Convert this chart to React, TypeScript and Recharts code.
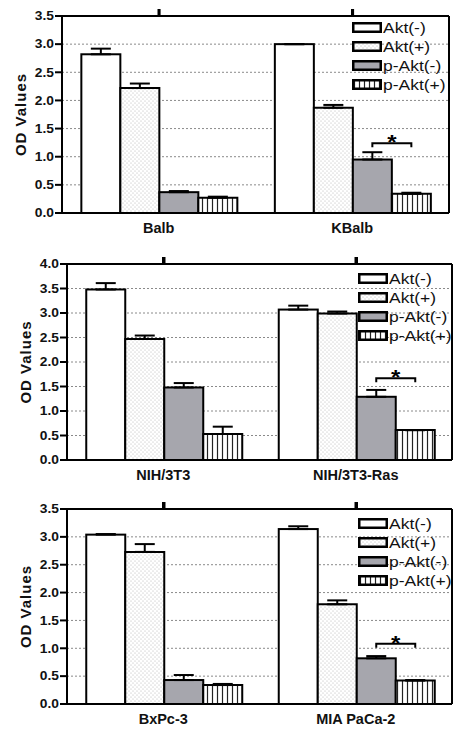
import React from 'react';
import { BarChart, Bar, XAxis, YAxis, CartesianGrid, ErrorBar } from 'recharts';

const seriesNames = ['Akt(-)', 'Akt(+)', 'p-Akt(-)', 'p-Akt(+)'];

// Panel 1
const cats1 = ['Balb', 'KBalb'];
const aktNeg1 = [2.82, 3.0];
const aktPos1 = [2.22, 1.87];
const pAktNeg1 = [0.37, 0.95];
const pAktPos1 = [0.27, 0.34];
const errAktNeg1 = [0.1, 0.0];
const errAktPos1 = [0.08, 0.05];
const errPAktNeg1 = [0.02, 0.13];
const errPAktPos1 = [0.02, 0.02];
const sig1: (number | null)[] = [null, 1.24];
const yTicks1 = [0, 0.5, 1, 1.5, 2, 2.5, 3, 3.5];

// Panel 2
const cats2 = ['NIH/3T3', 'NIH/3T3-Ras'];
const aktNeg2 = [3.48, 3.07];
const aktPos2 = [2.47, 2.99];
const pAktNeg2 = [1.48, 1.29];
const pAktPos2 = [0.53, 0.61];
const errAktNeg2 = [0.13, 0.08];
const errAktPos2 = [0.07, 0.04];
const errPAktNeg2 = [0.09, 0.14];
const errPAktPos2 = [0.15, 0.0];
const sig2: (number | null)[] = [null, 1.67];
const yTicks2 = [0, 0.5, 1, 1.5, 2, 2.5, 3, 3.5, 4];

// Panel 3
const cats3 = ['BxPc-3', 'MIA PaCa-2'];
const aktNeg3 = [3.04, 3.14];
const aktPos3 = [2.73, 1.79];
const pAktNeg3 = [0.43, 0.82];
const pAktPos3 = [0.34, 0.42];
const errAktNeg3 = [0.01, 0.05];
const errAktPos3 = [0.14, 0.07];
const errPAktNeg3 = [0.09, 0.04];
const errPAktPos3 = [0.02, 0.01];
const sig3: (number | null)[] = [null, 1.08];
const yTicks3 = [0, 0.5, 1, 1.5, 2, 2.5, 3, 3.5];

const FONT = '"Liberation Sans", Arial, Helvetica, sans-serif';
const GRAY = '#a6a6ad';

function buildRows(cats: string[], vals: number[][], errs: number[][], sig: (number | null)[]) {
  return cats.map((c, i) => ({
    cat: c,
    v0: vals[0][i], v1: vals[1][i], v2: vals[2][i], v3: vals[3][i],
    e0: [0, errs[0][i]], e1: [0, errs[1][i]], e2: [0, errs[2][i]], e3: [0, errs[3][i]],
    sig: sig[i],
  }));
}

function Patterns({ pid }: { pid: string }) {
  return (
    <defs>
      <pattern id={`dots-${pid}`} width={4} height={4} patternUnits="userSpaceOnUse">
        <rect width={4} height={4} fill="#fff" />
        <circle cx={1} cy={1} r={0.55} fill="#b0b0b0" />
        <circle cx={3} cy={3} r={0.55} fill="#b0b0b0" />
      </pattern>
      <pattern id={`stripes-${pid}`} width={5} height={5} patternUnits="userSpaceOnUse">
        <rect width={5} height={5} fill="#fff" />
        <line x1={2.5} y1={0} x2={2.5} y2={5} stroke="#222" strokeWidth={1.2} />
      </pattern>
    </defs>
  );
}

const fillsFor = (pid: string) => ['#ffffff', `url(#dots-${pid})`, GRAY, `url(#stripes-${pid})`];

function YTick(props: any) {
  const { x, y, payload } = props;
  return (
    <text x={0} y={0} transform={`translate(${x},${y}) scale(1.15,1)`} textAnchor="end" dy={4.3}
      fontSize={12} fontWeight="bold" fontFamily={FONT} fill="#111">
      {Number(payload.value).toFixed(1)}
    </text>
  );
}

function XTick(props: any) {
  const { x, y, payload } = props;
  return (
    <text x={x} y={y} textAnchor="middle" dy={11.5} fontSize={14.5} fontWeight="bold" fontFamily={FONT} fill="#111">
      {payload.value}
    </text>
  );
}

// first bar of each group: also draws the top-frame tick at the group centre
const makeFirstShape = (yMax: number) => (props: any) => {
  const { x, y, width, height, payload } = props;
  const rect = <rect x={x} y={y} width={width} height={height} fill="#fff" stroke="#000" strokeWidth={2} />;
  if (!payload || !payload.v0 || !height) return rect;
  const pxPerUnit = height / payload.v0;
  const top = y + height - yMax * pxPerUnit;
  const cx = x + width * 2;
  return (
    <g>
      {rect}
      <line x1={cx} x2={cx} y1={top + 1} y2={top - 7} stroke="#000" strokeWidth={2.5} />
    </g>
  );
};

function SigShape(props: any) {
  const { x, y, width, height, payload } = props;
  const rect = <rect x={x} y={y} width={width} height={height} fill={GRAY} stroke="#000" strokeWidth={2} />;
  const sig = payload ? payload.sig : null;
  if (sig == null || !payload.v2 || !height) return rect;
  const pxPerUnit = height / payload.v2;
  const base = y + height;
  const by = base - sig * pxPerUnit;
  const x1 = x + width / 2;
  const x2 = x + width * 1.5;
  const mid = (x1 + x2) / 2;
  return (
    <g>
      {rect}
      <path d={`M${x1},${by + 4} L${x1},${by} L${x2},${by} L${x2},${by + 4}`} fill="none" stroke="#000" strokeWidth={2} />
      <text x={0} y={0} transform={`translate(${mid},${by + 6}) scale(1.2,1)`} textAnchor="middle" fontSize={20}
        fontWeight="bold" fontFamily={FONT} fill="#000">*</text>
    </g>
  );
}

function LegendBox({ pid, left, top }: { pid: string; left: number; top: number }) {
  const lp = `leg-${pid}`;
  const fills = fillsFor(lp);
  return (
    <svg style={{ position: 'absolute', left, top, overflow: 'visible' }} width={100} height={80}>
      <Patterns pid={lp} />
      {seriesNames.map((n, i) => (
        <g key={n} transform={`translate(0, ${i * 19})`}>
          <rect x={1.25} y={1.25} width={27.5} height={8.5} fill={fills[i]} stroke="#000" strokeWidth={2.5} />
          <text x={0} y={0} transform={`translate(31, 11) scale(1.25,1)`} fontSize={14} fontFamily={FONT} fill="#111">
            {n}
          </text>
        </g>
      ))}
    </svg>
  );
}

type PanelProps = {
  pid: string;
  rows: any[];
  yMax: number;
  ticks: number[];
  height: number;
  margin: { top: number; right: number; bottom: number; left: number };
  yWidth: number;
  legend: { left: number; top: number };
};

function Panel({ pid, rows, yMax, ticks, height, margin, yWidth, legend }: PanelProps) {
  const fills = fillsFor(pid);
  const axisStroke = { stroke: '#000', strokeWidth: 2 };
  const plotTop = margin.top + 1;
  const plotBottom = height - margin.bottom - 25;
  const plotLeft = margin.left + yWidth;
  const plotRight = 455 - margin.right - 1;
  const band = (plotRight - plotLeft) / rows.length;
  const labelY = (plotTop + plotBottom) / 2;
  const labelX = plotLeft - 42;
  const FirstShape = makeFirstShape(yMax);
  return (
    <div style={{ position: 'relative', width: 455, height }}>
      <svg style={{ position: 'absolute', left: 0, top: 0, pointerEvents: 'none' }} width={455} height={height}>
        <text x={0} y={0} transform={`translate(${labelX},${labelY}) rotate(-90)`} textAnchor="middle"
          dominantBaseline="central" fontSize={15} fontWeight="bold" letterSpacing={1} fontFamily={FONT} fill="#111">
          OD Values
        </text>
      </svg>
      <div style={{ position: 'absolute', left: 0, top: 0 }}>
        <BarChart width={455} height={height} data={rows} margin={margin} barGap={0} barCategoryGap="10%">
          <Patterns pid={pid} />
          <CartesianGrid vertical={false} stroke="#8a8a8a" strokeDasharray="2 2" strokeWidth={1} />
          <XAxis xAxisId="top" orientation="top" dataKey="cat" height={1} tick={false}
            axisLine={axisStroke} tickLine={false} interval={0} />
          <XAxis dataKey="cat" height={25} tick={XTick} tickLine={false} axisLine={axisStroke} interval={0} />
          <YAxis domain={[0, yMax]} ticks={ticks} width={yWidth} tickSize={7} tickMargin={1}
            tick={YTick} axisLine={axisStroke} tickLine={axisStroke} interval={0} />
          <YAxis yAxisId="right" orientation="right" domain={[0, yMax]} width={1} tick={false}
            tickLine={false} axisLine={axisStroke} />
          <Bar dataKey="v0" fill={fills[0]} stroke="#000" strokeWidth={2} isAnimationActive={false} shape={FirstShape}>
            <ErrorBar dataKey="e0" direction="y" width={10} stroke="#000" strokeWidth={2} />
          </Bar>
          <Bar dataKey="v1" fill={fills[1]} stroke="#000" strokeWidth={2} isAnimationActive={false}>
            <ErrorBar dataKey="e1" direction="y" width={10} stroke="#000" strokeWidth={2} />
          </Bar>
          <Bar dataKey="v2" fill={fills[2]} stroke="#000" strokeWidth={2} isAnimationActive={false} shape={SigShape}>
            <ErrorBar dataKey="e2" direction="y" width={10} stroke="#000" strokeWidth={2} />
          </Bar>
          <Bar dataKey="v3" fill={fills[3]} stroke="#000" strokeWidth={2} isAnimationActive={false}>
            <ErrorBar dataKey="e3" direction="y" width={10} stroke="#000" strokeWidth={2} />
          </Bar>
        </BarChart>
      </div>
      {/* top-frame tick marks at the category band centres */}
      <svg style={{ position: 'absolute', left: 0, top: 0, pointerEvents: 'none' }} width={455} height={plotTop + 2}>
        {rows.map((r, i) => {
          const cx = plotLeft + band * (i + 0.5);
          return <line key={r.cat} x1={cx} x2={cx} y1={plotTop + 1} y2={plotTop - 7} stroke="#000" strokeWidth={2.5} />;
        })}
      </svg>
      <LegendBox pid={pid} left={legend.left} top={legend.top} />
    </div>
  );
}

const rows1 = buildRows(cats1, [aktNeg1, aktPos1, pAktNeg1, pAktPos1], [errAktNeg1, errAktPos1, errPAktNeg1, errPAktPos1], sig1);
const rows2 = buildRows(cats2, [aktNeg2, aktPos2, pAktNeg2, pAktPos2], [errAktNeg2, errAktPos2, errPAktNeg2, errPAktPos2], sig2);
const rows3 = buildRows(cats3, [aktNeg3, aktPos3, pAktNeg3, pAktPos3], [errAktNeg3, errAktPos3, errPAktNeg3, errPAktPos3], sig3);

export default function App() {
  return (
    <div style={{ width: 455, height: 733, background: '#fff', fontFamily: FONT }}>
      <style>{'body{margin:0;background:#fff}'}</style>
      <Panel pid="p1" rows={rows1} yMax={3.5} ticks={yTicks1} height={245}
        margin={{ top: 15, right: 5, bottom: 7, left: 0 }} yWidth={62} legend={{ left: 352, top: 22 }} />
      <Panel pid="p2" rows={rows2} yMax={4} ticks={yTicks2} height={245}
        margin={{ top: 18, right: 2, bottom: 5, left: 0 }} yWidth={67} legend={{ left: 358, top: 28 }} />
      <Panel pid="p3" rows={rows3} yMax={3.5} ticks={yTicks3} height={243}
        margin={{ top: 18, right: 2, bottom: 4, left: 0 }} yWidth={67} legend={{ left: 358, top: 28 }} />
    </div>
  );
}
